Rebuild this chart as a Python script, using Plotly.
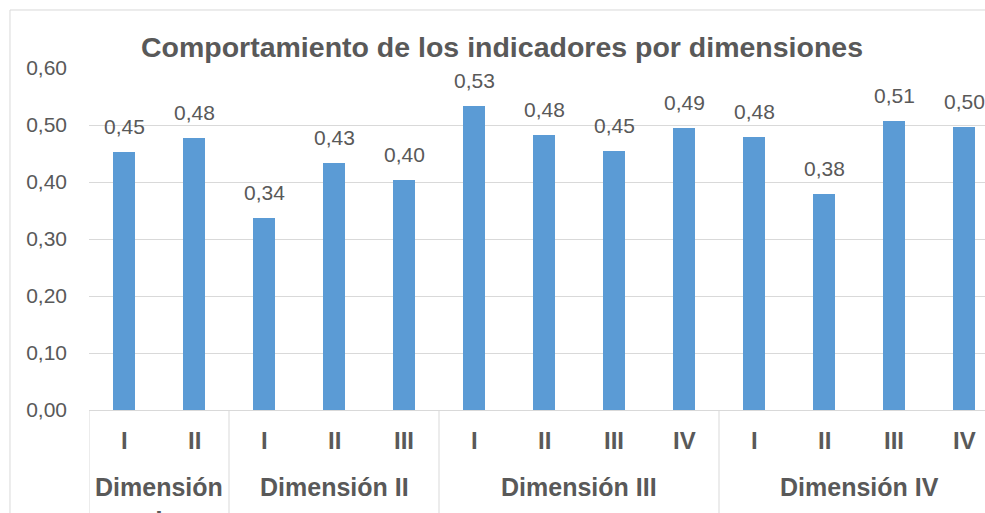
import plotly.graph_objects as go

# Data
dimensions = ["Dimensión<br>I", "Dimensión II", "Dimensión III", "Dimensión IV"]
group_sizes = [2, 3, 4, 4]
sub_labels = ["I", "II", "I", "II", "III", "I", "II", "III", "IV", "I", "II", "III", "IV"]
values = [0.453, 0.477, 0.337, 0.433, 0.404, 0.533, 0.482, 0.454, 0.494, 0.479, 0.379, 0.507, 0.496]
y_ticks = [0.0, 0.1, 0.2, 0.3, 0.4, 0.5, 0.6]

TEXT = "#595959"
GRID = "#D9D9D9"
BAR = "#5B9BD5"
FONT = "Liberation Sans, Arial, sans-serif"

W, H = 985, 513

x_pos = list(range(len(values)))

fig = go.Figure()
fig.add_trace(go.Bar(
    x=x_pos, y=values, width=0.31, marker=dict(color=BAR, line=dict(width=0)),
    hoverinfo="skip",
))

annotations = []
# data labels
for xp, v in zip(x_pos, values):
    annotations.append(dict(x=xp, y=v, xref="x", yref="y", text=f"{v:.2f}".replace(".", ","),
                            showarrow=False, yanchor="bottom", xanchor="center", yshift=12,
                            font=dict(size=21, color=TEXT, family=FONT)))
# sub-category labels
for xp, lab in zip(x_pos, sub_labels):
    annotations.append(dict(x=xp, y=-0.0906, xref="x", yref="paper", text=lab,
                            showarrow=False, yanchor="middle", xanchor="center",
                            font=dict(size=24, color=TEXT, family=FONT, weight="bold")))
# group labels and dividers
shapes = []
start = 0
bounds = [-0.5]
for name, n in zip(dimensions, group_sizes):
    center = start + (n - 1) / 2
    annotations.append(dict(x=center, y=-0.178, xref="x", yref="paper", text=name,
                            showarrow=False, yanchor="top", xanchor="center",
                            font=dict(size=25, color=TEXT, family=FONT, weight="bold")))
    start += n
    bounds.append(start - 0.5)
for b in bounds:
    shapes.append(dict(type="line", xref="x", yref="paper", x0=b, x1=b, y0=0, y1=-0.4,
                       line=dict(color=GRID, width=1)))
# chart border
shapes.append(dict(type="rect", xref="paper", yref="paper", x0=-0.0882, x1=1.05,
                   y0=-0.5, y1=1.1696, line=dict(color=GRID, width=1), layer="below"))

fig.update_layout(
    width=W, height=H,
    margin=dict(l=89, r=0, t=68, b=103),
    paper_bgcolor="white", plot_bgcolor="white",
    separators=",.",
    showlegend=False,
    title=dict(text="<b>Comportamiento de los indicadores por dimensiones</b>",
               x=502/W, xref="container", xanchor="center",
               y=1 - 47/H, yref="container", yanchor="middle",
               font=dict(size=28.5, color=TEXT, family=FONT)),
    xaxis=dict(range=[-0.5, 12.3], showticklabels=False, showgrid=False,
               zeroline=False, showline=False, ticks=""),
    yaxis=dict(range=[0, 0.6001], tickvals=y_ticks, tickformat=".2f",
               showgrid=True, gridcolor=GRID, gridwidth=1,
               zeroline=True, zerolinecolor=GRID, zerolinewidth=1,
               showline=False, ticks="", ticklabelstandoff=21,
               tickfont=dict(size=21, color=TEXT, family=FONT)),
    annotations=annotations,
    shapes=shapes,
    bargap=0,
)

fig.write_html(
    "out.html",
    config={"displayModeBar": False},
    post_script="document.body.style.margin='0';document.body.style.overflow='hidden';"
                "document.documentElement.style.overflow='hidden';",
)
